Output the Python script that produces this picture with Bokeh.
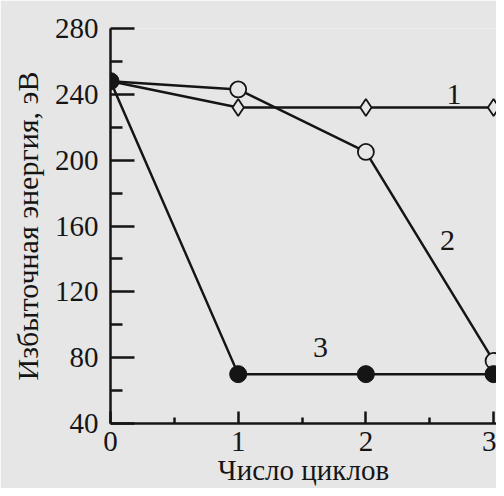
from bokeh.plotting import figure
from bokeh.embed import file_html
from bokeh.resources import INLINE
from bokeh.models import FixedTicker, Label

cycles = [0, 1, 2, 3]
series1 = [248, 232, 232, 232]
series2 = [248, 243, 205, 78]
series3 = [248, 70, 70, 70]
curve_labels = ["1", "2", "3"]
label_x = [2.69, 2.64, 1.645]
label_y = [240, 151, 86]
y_ticks = [40, 80, 120, 160, 200, 240, 280]
x_ticks = [0, 1, 2, 3]
y_title = "Избыточная энергия, эВ"
x_title = "Число циклов"

FONT = "Liberation Serif"
BG = "#e6e6e6"
INK = "#151515"

p = figure(width=496, height=488, output_backend="svg", toolbar_location=None,
           x_range=(0, 3.023), y_range=(40, 280),
           min_border_left=110, min_border_right=0, min_border_top=28, min_border_bottom=65)
p.background_fill_color = BG
p.border_fill_color = BG
p.outline_line_color = None
p.grid.visible = False

p.xaxis.ticker = FixedTicker(ticks=x_ticks, minor_ticks=[0.5, 1.5, 2.5])
p.yaxis.ticker = FixedTicker(ticks=y_ticks, minor_ticks=[60, 100, 140, 180, 220, 260])
for ax in (p.xaxis, p.yaxis):
    ax.axis_line_width = 2.5
    ax.axis_line_color = INK
    ax.major_tick_line_color = INK
    ax.minor_tick_line_color = INK
    ax.major_tick_line_width = 2.5
    ax.minor_tick_line_width = 2.5
    ax.major_tick_out = 0
    ax.minor_tick_out = 0
    ax.major_label_text_font = FONT
    ax.major_label_text_font_size = "29px"
    ax.major_label_text_color = INK
    ax.axis_label_text_font = FONT
    ax.axis_label_text_font_style = "normal"
    ax.axis_label_text_color = INK
p.yaxis.axis_label_text_font_size = "30px"
p.xaxis.axis_label_text_font_size = "29px"
p.yaxis.major_tick_in = 24
p.yaxis.minor_tick_in = 12
p.xaxis.major_tick_in = 12
p.xaxis.minor_tick_in = 6
p.yaxis.major_label_standoff = 12
p.xaxis.major_label_standoff = 8
p.yaxis.axis_label = y_title
p.xaxis.axis_label = x_title
p.yaxis.axis_label_standoff = 8
p.xaxis.axis_label_standoff = 0

p.line(cycles, series1, line_color=INK, line_width=2.5)
p.line(cycles, series2, line_color=INK, line_width=2.5)
p.line(cycles, series3, line_color=INK, line_width=2.5)
p.scatter(cycles[1:], series1[1:], marker="diamond", size=17, fill_color=BG, line_color=INK, line_width=1.8)
p.scatter(cycles[1:], series2[1:], marker="circle", size=16, fill_color=BG, line_color=INK, line_width=1.8)
p.scatter(cycles, series3, marker="circle", size=17, fill_color=INK, line_color=INK)

for t, x, y in zip(curve_labels, label_x, label_y):
    p.add_layout(Label(x=x, y=y, text=t, text_font=FONT, text_font_size="30px",
                       text_color=INK, text_align="center", text_baseline="middle"))

open("out.html", "w").write(file_html(p, INLINE))
